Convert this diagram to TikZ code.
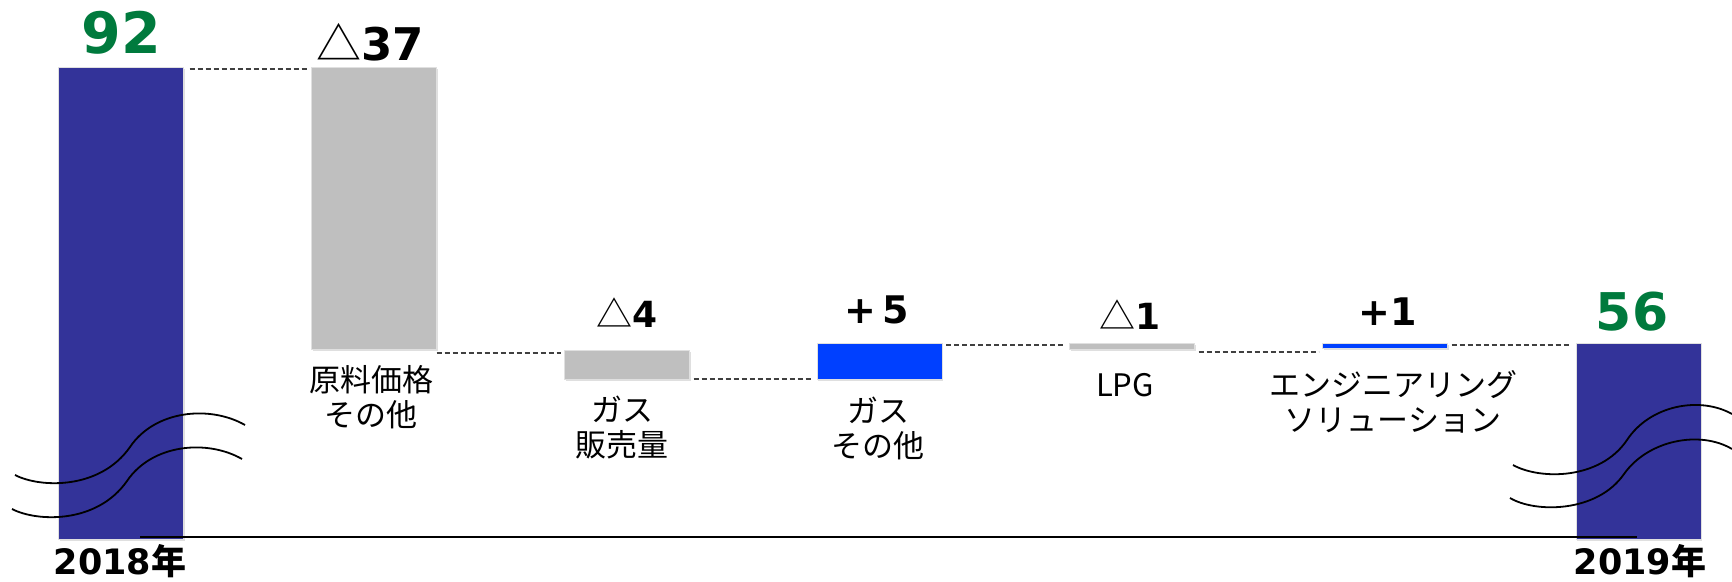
\documentclass[tikz,border=0pt]{standalone}
\usepackage{fontspec}
\setmainfont{DejaVu Sans}
\newfontfamily\jp{Noto Sans CJK JP}
\usetikzlibrary{shadows}
\definecolor{navybar}{RGB}{51,51,153}
\definecolor{graybar}{RGB}{191,191,191}
\definecolor{bluebar}{RGB}{0,64,255}
\definecolor{greennum}{RGB}{0,122,61}
\tikzstyle{bar_op} = [rectangle, inner sep=0pt, outer sep=0pt, minimum width=125pt, draw=white!88!black, line width=0.8pt, drop shadow={opacity=0.25, shadow xshift=1pt, shadow yshift=-2pt}]
\tikzstyle{total_bar} = [bar_op, fill=navybar]
\tikzstyle{down_bar} = [bar_op, fill=graybar]
\tikzstyle{up_bar} = [bar_op, fill=bluebar]
\tikzstyle{dash_link} = [draw=black!75, line width=1.2pt, dash pattern=on 5pt off 3pt]
\tikzstyle{item_label} = [align=center, font=\jp\fontsize{31}{35}\selectfont]
\tikzstyle{total_val} = [text=greennum, font=\bfseries]
\tikzstyle{wave_op} = [line width=1.8pt, black]

\begin{document}
\begin{tikzpicture}[x=1pt, y=-1pt]
\useasboundingbox (0,0) rectangle (1732,581);
% bars
\node (b1) [total_bar, minimum height=472pt] at (121,303) {};
\node (b2) [down_bar, minimum height=282pt] at (374,208) {};
\node (b3) [down_bar, minimum height=29pt] at (627,364.5) {};
\node (b4) [up_bar, minimum height=36pt] at (879.5,361) {};
\node (b5) [down_bar, minimum height=6pt] at (1132,346) {};
\node (b6) [up_bar, minimum height=5pt] at (1385,345.5) {};
\node (b7) [total_bar, minimum height=196pt] at (1638.5,441) {};
% links
\draw[dash_link] ([xshift=6pt,yshift=-2pt]b1.north east) -- ([xshift=-5pt,yshift=-2pt]b2.north west);
\draw[dash_link] ([yshift=-4pt]b2.south east) -- ([xshift=-4pt,yshift=-4pt]b2.south east -| b3.west);
\draw[dash_link] ([xshift=4pt]b3.south east) -- ([xshift=-4pt]b4.south west);
\draw[dash_link] ([xshift=4pt,yshift=-2pt]b4.north east) -- ([xshift=-4pt,yshift=-2pt]b5.north west);
\draw[dash_link] ([xshift=4pt,yshift=-3pt]b5.south east) -- ([xshift=-4pt,yshift=-3pt]b5.south east -| b6.west);
\draw[dash_link] ([xshift=4pt,yshift=-2pt]b6.north east) -- ([xshift=-5pt,yshift=-2pt]b7.north west);
% waves
\draw[wave_op] (15,475) .. controls (40,488) and (100,490) .. (130,447) .. controls (155,410) and (210,405) .. (245,425);
\draw[wave_op] (12,509) .. controls (37,522) and (97,524) .. (127,481) .. controls (152,444) and (207,439) .. (242,459);
\draw[wave_op] (1513,465) .. controls (1540,480) and (1600,480) .. (1627,440) .. controls (1650,405) and (1700,396) .. (1732,414);
\draw[wave_op] (1510,498) .. controls (1535,513) and (1597,513) .. (1624,474) .. controls (1648,440) and (1700,430) .. (1732,449);
% axis
\coordinate (ax0) at (140,537);
\coordinate (ax1) at (1637,537);
\draw[line width=1.5pt, black] (ax0) -- (ax1);
% values
\node (v1) [total_val, font=\bfseries\fontsize{57}{60}\selectfont] at (121,33) {92};
\node (v2) [font=\bfseries\fontsize{45}{48}\selectfont] at (370,42) {{\jp\mdseries △}37};
\node (v3) [font=\bfseries\fontsize{36}{40}\selectfont] at (627,313) {{\jp\mdseries △}4};
\node (v4) [font=\bfseries\fontsize{38}{40}\selectfont] at (877,310) {+\,5};
\node (v5) [font=\bfseries\fontsize{36}{40}\selectfont] at (1130,315) {{\jp\mdseries △}1};
\node (v6) [font=\bfseries\fontsize{38}{40}\selectfont] at (1388,312) {+1};
\node (v7) [total_val, font=\bfseries\fontsize{52}{56}\selectfont] at (1632,312) {56};
% labels
\node (l2) [item_label] at (371,397) {原料価格\\その他};
\node (l3) [item_label] at (622,428) {ガス\\販売量};
\node (l4) [item_label] at (878,428) {ガス\\その他};
\node (l5) [item_label] at (1125,385) {LPG};
\node (l6) [item_label] at (1393,402) {エンジニアリング\\ソリューション};
% years
\node (y1) [font=\bfseries\fontsize{35}{40}\selectfont] at (120,561) {2018{\jp 年}};
\node (y7) [font=\bfseries\fontsize{35}{40}\selectfont] at (1640,561) {2019{\jp 年}};
\end{tikzpicture}
\end{document}
